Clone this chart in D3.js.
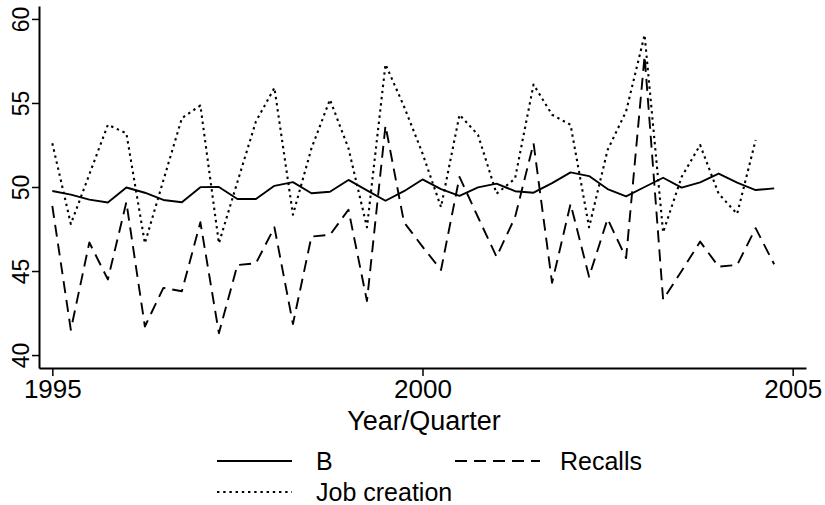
<!DOCTYPE html>
<html>
<head>
<meta charset="utf-8">
<script src="https://cdn.jsdelivr.net/npm/d3@7"></script>
<style>
  html, body { margin: 0; padding: 0; background: #fff; }
  svg { display: block; font-family: "Liberation Sans", Arial, Helvetica, sans-serif; }
</style>
</head>
<body>
<svg id="chart" width="825" height="505"></svg>
<script>
const quarters = [
  "1995q1","1995q2","1995q3","1995q4","1996q1","1996q2","1996q3","1996q4",
  "1997q1","1997q2","1997q3","1997q4","1998q1","1998q2","1998q3","1998q4",
  "1999q1","1999q2","1999q3","1999q4","2000q1","2000q2","2000q3","2000q4",
  "2001q1","2001q2","2001q3","2001q4","2002q1","2002q2","2002q3","2002q4",
  "2003q1","2003q2","2003q3","2003q4","2004q1","2004q2","2004q3","2004q4"
];
const seriesB = [
  49.76, 49.55, 49.25, 49.08, 49.97, 49.66, 49.23, 49.09,
  49.99, 50.00, 49.29, 49.29, 50.07, 50.29, 49.63, 49.72,
  50.42, 49.80, 49.18, 49.75, 50.45, 49.87, 49.47, 49.98,
  50.20, 49.75, 49.66, 50.23, 50.87, 50.65, 49.88, 49.44,
  50.00, 50.55, 49.96, 50.28, 50.80, 50.26, 49.82, 49.92
];
const seriesRecalls = [
  48.87, 41.50, 46.70, 44.50, 49.10, 41.70, 44.00, 43.80,
  47.90, 41.30, 45.36, 45.46, 47.60, 41.85, 47.05, 47.15,
  48.65, 43.22, 53.65, 47.90, 46.45, 45.06, 50.60, 48.20,
  45.85, 48.20, 52.60, 44.30, 49.00, 44.66, 48.10, 45.77,
  57.80, 43.30, 45.00, 46.75, 45.26, 45.36, 47.55, 45.40
];
const seriesJobCreation = [
  52.60, 47.80, 50.75, 53.70, 53.20, 46.65, 50.40, 54.10,
  54.85, 46.65, 50.30, 53.90, 55.90, 48.35, 52.30, 55.20,
  52.30, 47.60, 57.30, 54.80, 52.00, 48.80, 54.30, 53.10,
  49.60, 50.50, 56.10, 54.30, 53.70, 47.60, 52.20, 54.50,
  59.05, 47.30, 50.60, 52.50, 49.60, 48.40, 52.80, null
];
const xTicks = [1995, 2000, 2005];
const yTicks = [40, 45, 50, 55, 60];
const xTitle = "Year/Quarter";
const legendLabels = ["B", "Recalls", "Job creation"];

const toYear = q => +q.slice(0, 4) + (+q.slice(5) - 1) / 4;

const svg = d3.select("#chart");

const x = d3.scaleLinear().domain([1994.82, 2005.18]).range([39, 806]);
const y = d3.scaleLinear().domain([39.23, 60.77]).range([368, 6]);

const series = [
  { name: legendLabels[0], values: seriesB, dash: null, width: 1.9 },
  { name: legendLabels[1], values: seriesRecalls, dash: "12,7", width: 1.9 },
  { name: legendLabels[2], values: seriesJobCreation, dash: "2.4,3.8", width: 2.1 }
];

const line = d3.line()
  .defined(d => d.v != null)
  .x(d => x(d.t))
  .y(d => y(d.v));

[2, 1, 0].forEach(k => {
  const s = series[k];
  const data = quarters.map((q, i) => ({ t: toYear(q), v: s.values[i] }));
  svg.append("path")
    .datum(data)
    .attr("fill", "none")
    .attr("stroke", "#000")
    .attr("stroke-width", s.width)
    .attr("stroke-linejoin", "round")
    .attr("stroke-dasharray", s.dash)
    .attr("d", line);
});

// x axis
const xAxis = svg.append("g")
  .attr("transform", "translate(0,368)")
  .call(d3.axisBottom(x).tickValues(xTicks).tickFormat(d3.format("d")).tickSize(8).tickSizeOuter(0));
xAxis.select(".domain").attr("stroke-width", 2);
xAxis.selectAll(".tick line").attr("stroke-width", 1.5);
xAxis.selectAll(".tick text")
  .attr("y", 30).attr("dy", 0)
  .attr("font-size", 26)
  .attr("font-family", "Liberation Sans, Arial, sans-serif")
  .attr("fill", "#000");

// y axis
const yAxis = svg.append("g")
  .attr("transform", "translate(39,0)")
  .call(d3.axisLeft(y).tickValues(yTicks).tickSize(7).tickSizeOuter(0));
yAxis.select(".domain").attr("stroke-width", 2);
yAxis.selectAll(".tick line").attr("stroke-width", 1.5);
yAxis.selectAll(".tick text")
  .attr("x", 0).attr("y", -10).attr("dy", 0)
  .attr("transform", "rotate(-90)")
  .attr("text-anchor", "middle")
  .attr("font-size", 23)
  .attr("font-family", "Liberation Sans, Arial, sans-serif")
  .attr("fill", "#000");

// x title
svg.append("text")
  .attr("x", 424).attr("y", 430)
  .attr("text-anchor", "middle")
  .attr("font-size", 27)
  .attr("fill", "#000")
  .text(xTitle);

// legend
const legendItems = [
  { s: series[0], x1: 217, x2: 292, ly: 461, tx: 316, ty: 470 },
  { s: series[1], x1: 455, x2: 540, ly: 461, tx: 560, ty: 470 },
  { s: series[2], x1: 217, x2: 292, ly: 492, tx: 316, ty: 501 }
];
legendItems.forEach(it => {
  svg.append("line")
    .attr("x1", it.x1).attr("x2", it.x2)
    .attr("y1", it.ly).attr("y2", it.ly)
    .attr("stroke", "#000")
    .attr("stroke-width", it.s.width)
    .attr("stroke-dasharray", it.s.dash);
  svg.append("text")
    .attr("x", it.tx).attr("y", it.ty)
    .attr("font-size", 25)
    .attr("fill", "#000")
    .text(it.s.name);
});
</script>
</body>
</html>
